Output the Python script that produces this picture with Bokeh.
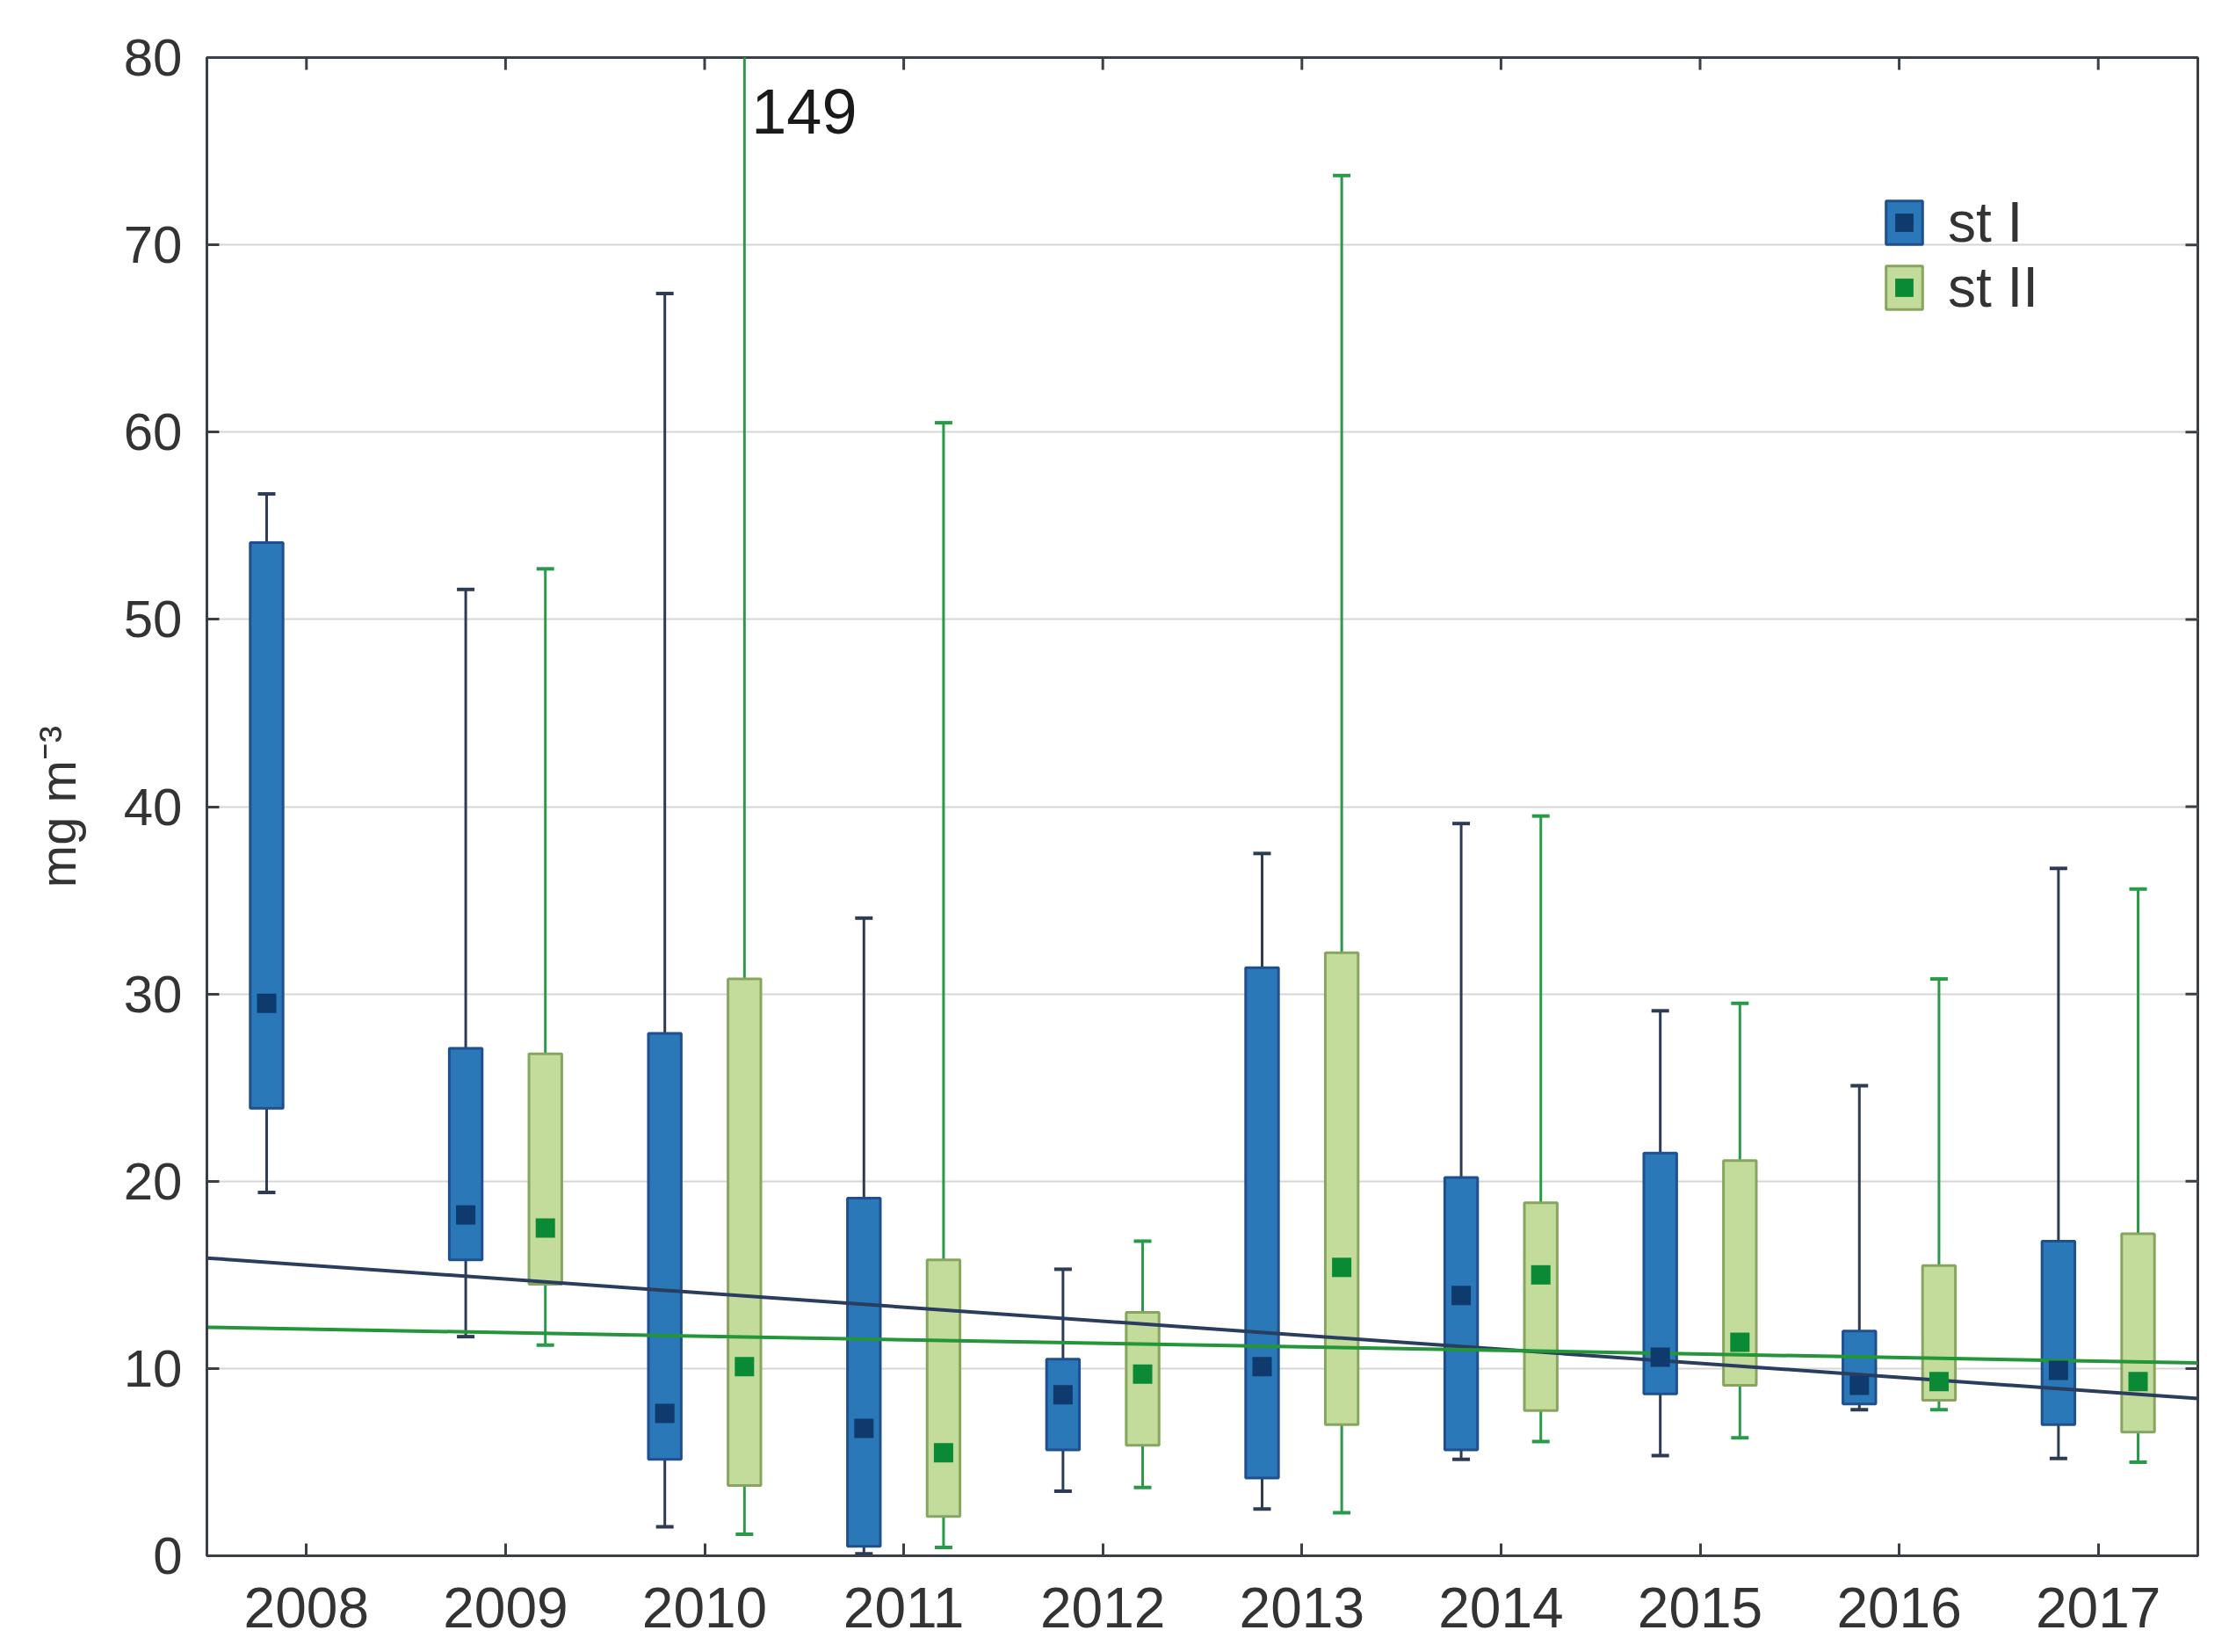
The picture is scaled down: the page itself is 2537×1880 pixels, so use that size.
import math
from bokeh.plotting import figure
from bokeh.models import (ColumnDataSource, FixedTicker, Range1d,
                          Legend, LegendItem)
from bokeh.transform import dodge
from bokeh.core.properties import value
from bokeh.embed import file_html
from bokeh.resources import INLINE

# ---------------- data ----------------
years_st1 = [2008, 2009, 2010, 2011, 2012, 2013, 2014, 2015, 2016, 2017]
st1_q1 = [23.9, 15.8, 5.15, 0.5, 5.65, 4.15, 5.65, 8.65, 8.1, 7.0]
st1_q3 = [54.1, 27.1, 27.9, 19.1, 10.5, 31.4, 20.2, 21.5, 12.0, 16.8]
st1_med = [29.5, 18.2, 7.6, 6.8, 8.6, 10.1, 13.9, 10.6, 9.1, 9.9]
st1_lo = [19.4, 11.7, 1.55, 0.1, 3.45, 2.5, 5.15, 5.35, 7.8, 5.2]
st1_hi = [56.7, 51.6, 67.4, 34.05, 15.3, 37.5, 39.1, 29.1, 25.1, 36.7]

years_st2 = [2009, 2010, 2011, 2012, 2013, 2014, 2015, 2016, 2017]
st2_q1 = [14.5, 3.75, 2.1, 5.9, 7.0, 7.75, 9.1, 8.3, 6.6]
st2_q3 = [26.8, 30.8, 15.8, 13.0, 32.2, 18.85, 21.1, 15.5, 17.2]
st2_med = [17.5, 10.1, 5.5, 9.7, 15.4, 15.0, 11.4, 9.3, 9.3]
st2_lo = [11.25, 1.15, 0.45, 3.65, 2.3, 6.1, 6.3, 7.8, 5.0]
st2_hi = [52.7, 149.0, 60.5, 16.8, 73.7, 39.5, 29.5, 30.8, 35.6]

trend_x = [2007.5, 2017.5]
trend_st1 = [15.9, 8.4]
trend_st2 = [12.2, 10.3]

y_ticks = [0, 10, 20, 30, 40, 50, 60, 70, 80]
note_year = [2010]
note_text = ["149"]
series_names = ["st I", "st II"]

# ---------------- style ----------------
FONT = "Liberation Sans"
AXIS_COL = "#3b3f46"
TXT_COL = "#333333"
BLUE_FILL, BLUE_LINE, BLUE_MED, BLUE_WHISK = "#2a78b8", "#1f4f8f", "#0f3a6e", "#2e3b55"
GRN_FILL, GRN_LINE, GRN_MED, GRN_WHISK = "#c3dc9c", "#86a65e", "#0b8a35", "#2a9a4a"
TREND1, TREND2 = "#2b3d5e", "#23963a"
OFF = 0.2
BOX_W = 0.165

src1 = ColumnDataSource(dict(year=years_st1, q1=st1_q1, q3=st1_q3, med=st1_med,
                             lo=st1_lo, hi=st1_hi))
src2 = ColumnDataSource(dict(year=years_st2, q1=st2_q1, q3=st2_q3, med=st2_med,
                             lo=st2_lo, hi=st2_hi))
note_src = ColumnDataSource(dict(year=note_year, y=[y_ticks[-1]], text=note_text))

p = figure(frame_width=2266, frame_height=1705,
           x_range=Range1d(trend_x[0], trend_x[1]),
           y_range=Range1d(y_ticks[0], y_ticks[-1]),
           output_backend="svg", toolbar_location=None,
           min_border_left=235, min_border_top=65,
           min_border_right=20, min_border_bottom=94,
           background_fill_color="white", border_fill_color="white")

p.outline_line_color = AXIS_COL
p.outline_line_width = 3
p.xgrid.visible = False
p.ygrid.ticker = FixedTicker(ticks=y_ticks)
p.ygrid.grid_line_color = "#d6d6d6"
p.ygrid.grid_line_width = 2

for ax in (p.xaxis[0], p.yaxis[0]):
    ax.axis_line_color = AXIS_COL
    ax.axis_line_width = 3
    ax.major_tick_in = 14
    ax.major_tick_out = 0
    ax.major_tick_line_color = AXIS_COL
    ax.major_tick_line_width = 3
    ax.minor_tick_line_color = None
    ax.major_label_text_font = FONT
    ax.major_label_text_color = TXT_COL

p.xaxis.ticker = FixedTicker(ticks=years_st1)
p.xaxis.major_label_text_font_size = "64px"
p.xaxis.major_label_standoff = 36
p.yaxis.ticker = FixedTicker(ticks=y_ticks)
p.yaxis.major_label_text_font_size = "60px"
p.yaxis.major_label_standoff = 28
p.yaxis.axis_label = "mg m\u207b\u00b3"
p.yaxis.axis_label_text_font = FONT
p.yaxis.axis_label_text_font_style = "normal"
p.yaxis.axis_label_text_font_size = "58px"
p.yaxis.axis_label_text_color = TXT_COL
p.yaxis.axis_label_standoff = 40

# inner ticks on the top and right frame edges (half clipped by the frame)
p.scatter(x=years_st1, y=[y_ticks[-1]] * len(years_st1), marker="dash",
          size=28, angle=math.pi / 2, line_color=AXIS_COL, line_width=3)
p.scatter(x=[trend_x[1]] * len(y_ticks), y=y_ticks, marker="dash",
          size=28, line_color=AXIS_COL, line_width=3)

xs1 = dodge("year", -OFF, range=p.x_range)
xs2 = dodge("year", OFF, range=p.x_range)

# whiskers
p.segment(x0=xs1, y0="lo", x1=xs1, y1="hi", source=src1, line_color=BLUE_WHISK, line_width=3)
p.segment(x0=xs2, y0="lo", x1=xs2, y1="hi", source=src2, line_color=GRN_WHISK, line_width=3)
for col in ("lo", "hi"):
    p.scatter(x=xs1, y=col, source=src1, marker="dash", size=20,
              line_color=BLUE_WHISK, line_width=4)
    p.scatter(x=xs2, y=col, source=src2, marker="dash", size=20,
              line_color=GRN_WHISK, line_width=4)

# boxes
box1 = p.vbar(x=xs1, width=BOX_W, bottom="q1", top="q3", source=src1,
              fill_color=BLUE_FILL, line_color=BLUE_LINE, line_width=3)
box2 = p.vbar(x=xs2, width=BOX_W, bottom="q1", top="q3", source=src2,
              fill_color=GRN_FILL, line_color=GRN_LINE, line_width=3)

# trend lines
p.line(trend_x, trend_st1, line_color=TREND1, line_width=4)
p.line(trend_x, trend_st2, line_color=TREND2, line_width=4)

# medians
med1 = p.scatter(x=xs1, y="med", source=src1, marker="square", size=22,
                 fill_color=BLUE_MED, line_color=None)
med2 = p.scatter(x=xs2, y="med", source=src2, marker="square", size=22,
                 fill_color=GRN_MED, line_color=None)

# outlier annotation
p.text(x=dodge("year", OFF, range=p.x_range), y="y", text="text", source=note_src,
       x_offset=8, y_offset=36, text_baseline="top", text_align="left",
       text_font=value(FONT), text_font_size="72px", text_color="#1a1a1a")

legend = Legend(items=[LegendItem(label=series_names[0], renderers=[box1, med1]),
                       LegendItem(label=series_names[1], renderers=[box2, med2])],
                location=(1906, 1406), orientation="vertical",
                glyph_width=52, glyph_height=62, label_standoff=24, spacing=0,
                padding=0, margin=0, border_line_color=None,
                background_fill_alpha=0,
                label_text_font=FONT, label_text_font_size="64px",
                label_text_color=TXT_COL)
p.add_layout(legend)

open("out.html", "w").write(file_html(p, INLINE))
